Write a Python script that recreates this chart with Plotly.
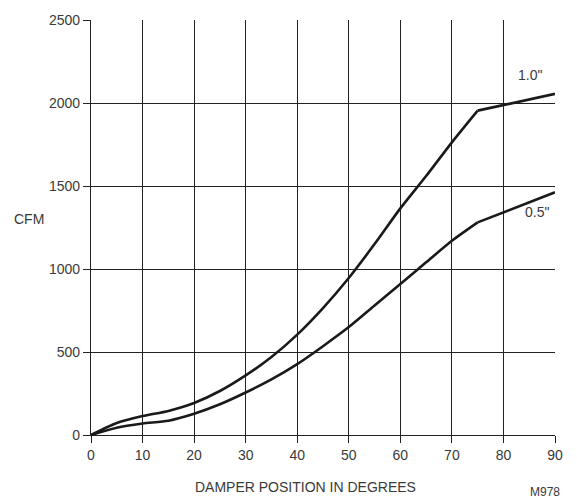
import plotly.graph_objects as go

degrees = [0, 5, 10, 15, 20, 25, 30, 35, 40, 45, 50, 55, 60, 65, 70, 75]
cfm_10 = [0, 72, 114, 145, 193, 265, 359, 470, 605, 765, 946, 1150, 1365, 1560, 1763, 1954]
cfm_05 = [0, 44, 69, 86, 128, 185, 256, 335, 427, 535, 650, 780, 910, 1040, 1170, 1281]
end_degrees = [75, 90]
end_10 = [1954, 2055]
end_05 = [1281, 1462]

x_ticks = [0, 10, 20, 30, 40, 50, 60, 70, 80, 90]
y_ticks = [0, 500, 1000, 1500, 2000, 2500]

family = "Liberation Sans, Arial, sans-serif"
font = dict(family=family, size=14, color="#3a3a3a")
line = dict(color="#1a1a1a", width=2.6)

fig = go.Figure()
fig.add_trace(go.Scatter(x=degrees, y=cfm_10, mode="lines", line=dict(shape="spline", smoothing=0.7, **line)))
fig.add_trace(go.Scatter(x=end_degrees, y=end_10, mode="lines", line=line))
fig.add_trace(go.Scatter(x=degrees, y=cfm_05, mode="lines", line=dict(shape="spline", smoothing=0.7, **line)))
fig.add_trace(go.Scatter(x=end_degrees, y=end_05, mode="lines", line=line))

axis_common = dict(showgrid=True, gridcolor="#222222", gridwidth=1.3, showline=True,
                   linecolor="#222222", linewidth=1.3, ticks="outside", ticklen=7,
                   tickcolor="#222222", tickwidth=1.3, zeroline=False, tickfont=font, mirror=False,
                   ticklabeloverflow="allow")

fig.update_xaxes(range=[0, 90], tickvals=x_ticks, **axis_common)
fig.update_yaxes(range=[0, 2500], tickvals=y_ticks, **axis_common)

fig.add_annotation(x=90, y=end_10[1], text='1.0"', showarrow=False, xanchor="right", yanchor="middle",
                   xshift=-11, yshift=19, font=font)
fig.add_annotation(x=90, y=end_05[1], text='0.5"', showarrow=False, xanchor="right", yanchor="middle",
                   xshift=-4, yshift=-20, font=font)
fig.add_annotation(x=0.0, y=1500, xref="paper", yref="y", xshift=-79, yshift=-33, text="CFM",
                   showarrow=False, xanchor="left", yanchor="middle", font=font)
fig.add_annotation(x=0.5, y=0, xref="paper", yref="paper", yshift=-52, xshift=-18,
                   text="DAMPER POSITION IN DEGREES", showarrow=False, yanchor="middle", font=font)
fig.add_annotation(x=1.0, y=0, xref="paper", yref="paper", yshift=-57, xshift=7,
                   text="M978", showarrow=False, xanchor="right", yanchor="middle",
                   font=dict(family=family, size=12, color="#3a3a3a"))

fig.update_layout(width=577, height=501, showlegend=False,
                  margin=dict(l=91, r=22, t=12, b=66),
                  plot_bgcolor="white", paper_bgcolor="white")
fig.write_html("out.html", config={"displayModeBar": False},
               post_script="document.body.style.margin='0';document.body.style.overflow='hidden';")
